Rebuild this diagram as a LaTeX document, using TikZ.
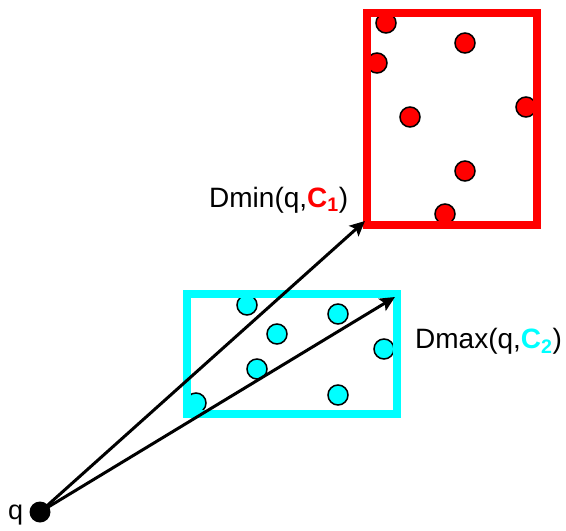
\documentclass[tikz,border=0pt]{standalone}
\usepackage{fontspec}
\setmainfont{Liberation Sans}
\usetikzlibrary{arrows.meta}
\definecolor{boxred}{RGB}{255,0,0}
\definecolor{boxcyan}{RGB}{0,255,255}
\begin{document}
\begin{tikzpicture}[x=1pt,y=-1pt,
  pt/.style={circle,draw=black,line width=1.5pt,minimum size=20pt,inner sep=0pt},
  redpt/.style={pt,fill=boxred},
  cyanpt/.style={pt,fill=boxcyan},
  region/.style={draw,line width=8pt,inner sep=0pt},
  ray/.style={line width=3pt,-{Stealth[length=15pt,width=14pt,inset=3pt]}},
  lbl/.style={inner sep=0pt,anchor=base west,font=\fontsize{28}{33}\selectfont}]
\useasboundingbox (0,0) rectangle (566,531);
% red points
\node[redpt] (r1) at (386,23) {};
\node[redpt] (r2) at (465,43) {};
\node[redpt] (r3) at (377,63) {};
\node[redpt] (r4) at (410,117) {};
\node[redpt] (r5) at (526,107) {};
\node[redpt] (r6) at (465,171) {};
\node[redpt] (r7) at (445,214) {};
% cyan points
\node[cyanpt] (c1) at (247,305) {};
\node[cyanpt] (c2) at (277,334) {};
\node[cyanpt] (c3) at (338,314) {};
\node[cyanpt] (c4) at (257,369) {};
\node[cyanpt] (c5) at (384,349) {};
\node[cyanpt] (c6) at (338,395) {};
\node[cyanpt] (c7) at (196,403) {};
% boxes
\node[region,draw=boxred,minimum width=170.5pt,minimum height=212pt] (C1) at (451.75,119) {};
\node[region,draw=boxcyan,minimum width=210.5pt,minimum height=119.5pt] (C2) at (291.75,353.75) {};
% query point
\node[circle,fill=black,minimum size=21pt,inner sep=0pt] (q) at (40,512) {};
\node[lbl,font=\fontsize{27}{32}\selectfont] (ql) at (8,519) {q};
\coordinate (tmin) at (365,221);
\coordinate (tmax) at (395,297);
\draw[ray] (q.center) -- (tmin);
\draw[ray] (q.center) -- (tmax);
% labels
\node[lbl] (dmin) at (209,207) {Dmin(q,\textcolor{boxred}{\bfseries C\textsubscript{1}})};
\node[lbl] (dmax) at (415,348) {Dmax(q,\textcolor{boxcyan}{\bfseries C\textsubscript{2}})};
\end{tikzpicture}
\end{document}
